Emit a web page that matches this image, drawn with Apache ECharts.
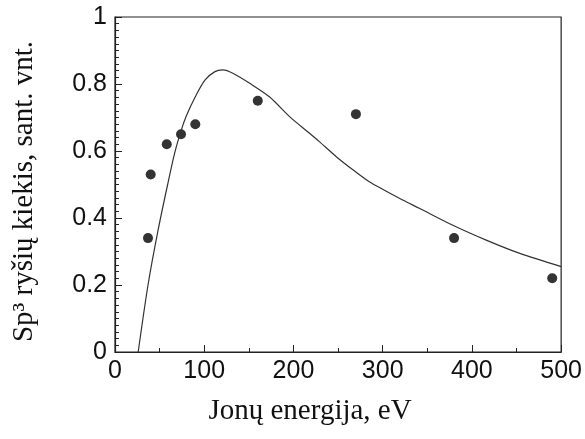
<!DOCTYPE html>
<html>
<head>
<meta charset="utf-8">
<script src="https://cdn.jsdelivr.net/npm/echarts@6/dist/echarts.min.js"></script>
<style>html,body{margin:0;padding:0;background:#fff}#c{width:585px;height:439px}</style>
</head>
<body>
<div id="c"></div>
<script>
// Measured points
const pointEnergy = [37, 40, 58, 74, 90, 160, 270, 380, 490];
const pointSp3 = [0.34, 0.53, 0.62, 0.65, 0.68, 0.75, 0.71, 0.34, 0.22];
// Model curve
const curveEnergy = [26, 37, 48, 59, 67, 74, 80, 90, 101, 112, 121, 132, 151, 173, 196, 218, 229, 248, 267, 285, 304, 323, 341, 378, 416, 453, 500];
const curveSp3 = [0, 0.2, 0.36, 0.5, 0.595, 0.66, 0.705, 0.762, 0.812, 0.837, 0.842, 0.832, 0.802, 0.762, 0.702, 0.653, 0.628, 0.583, 0.543, 0.508, 0.48, 0.453, 0.429, 0.379, 0.334, 0.295, 0.255];
const xTicks = [0, 100, 200, 300, 400, 500];
const yTicks = [0, 0.2, 0.4, 0.6, 0.8, 1];

const chart = echarts.init(document.getElementById('c'), null, {renderer: 'canvas'});
const axisColor = '#222';
chart.setOption({
  animation: false,
  backgroundColor: '#fff',
  grid: {left: 115, top: 17, right: 23, bottom: 87, show: true, borderColor: axisColor, borderWidth: 1.2, backgroundColor: 'transparent'},
  xAxis: {
    type: 'value', min: xTicks[0], max: xTicks[xTicks.length - 1], interval: 100,
    name: 'Jonų energija, eV', nameLocation: 'middle', nameGap: 45,
    nameTextStyle: {fontFamily: 'Liberation Serif', fontSize: 29, color: '#111', padding: [0, 56, 0, 0]},
    axisLine: {show: true, lineStyle: {color: axisColor, width: 1.2}},
    axisTick: {show: true, inside: true, length: 7, lineStyle: {color: axisColor}},
    minorTick: {show: true, splitNumber: 2, length: 4, lineStyle: {color: axisColor}},
    axisLabel: {fontFamily: 'Liberation Sans', fontSize: 25, color: '#111', margin: 7},
    splitLine: {show: false}
  },
  yAxis: {
    type: 'value', min: yTicks[0], max: yTicks[yTicks.length - 1], interval: 0.2,
    name: 'Sp³ ryšių kiekis, sant. vnt.', nameLocation: 'middle', nameGap: 76,
    nameTextStyle: {fontFamily: 'Liberation Serif', fontSize: 29, color: '#111', padding: [0, 14, 0, 0]},
    axisLine: {show: true, lineStyle: {color: axisColor, width: 1.2}},
    axisTick: {show: true, inside: true, length: 7, lineStyle: {color: axisColor}},
    minorTick: {show: true, splitNumber: 10, length: 4, lineStyle: {color: axisColor}},
    axisLabel: {fontFamily: 'Liberation Sans', fontSize: 25, color: '#111', margin: 8},
    splitLine: {show: false}
  },
  series: [
    {
      type: 'line', smooth: 0.3, symbol: 'none',
      lineStyle: {color: '#333', width: 1.2},
      data: curveEnergy.map((x, i) => [x, curveSp3[i]])
    },
    {
      type: 'scatter', symbol: 'circle', symbolSize: 10,
      itemStyle: {color: '#000'},
      data: pointEnergy.map((x, i) => [x, pointSp3[i]])
    }
  ]
});
</script>
</body>
</html>
